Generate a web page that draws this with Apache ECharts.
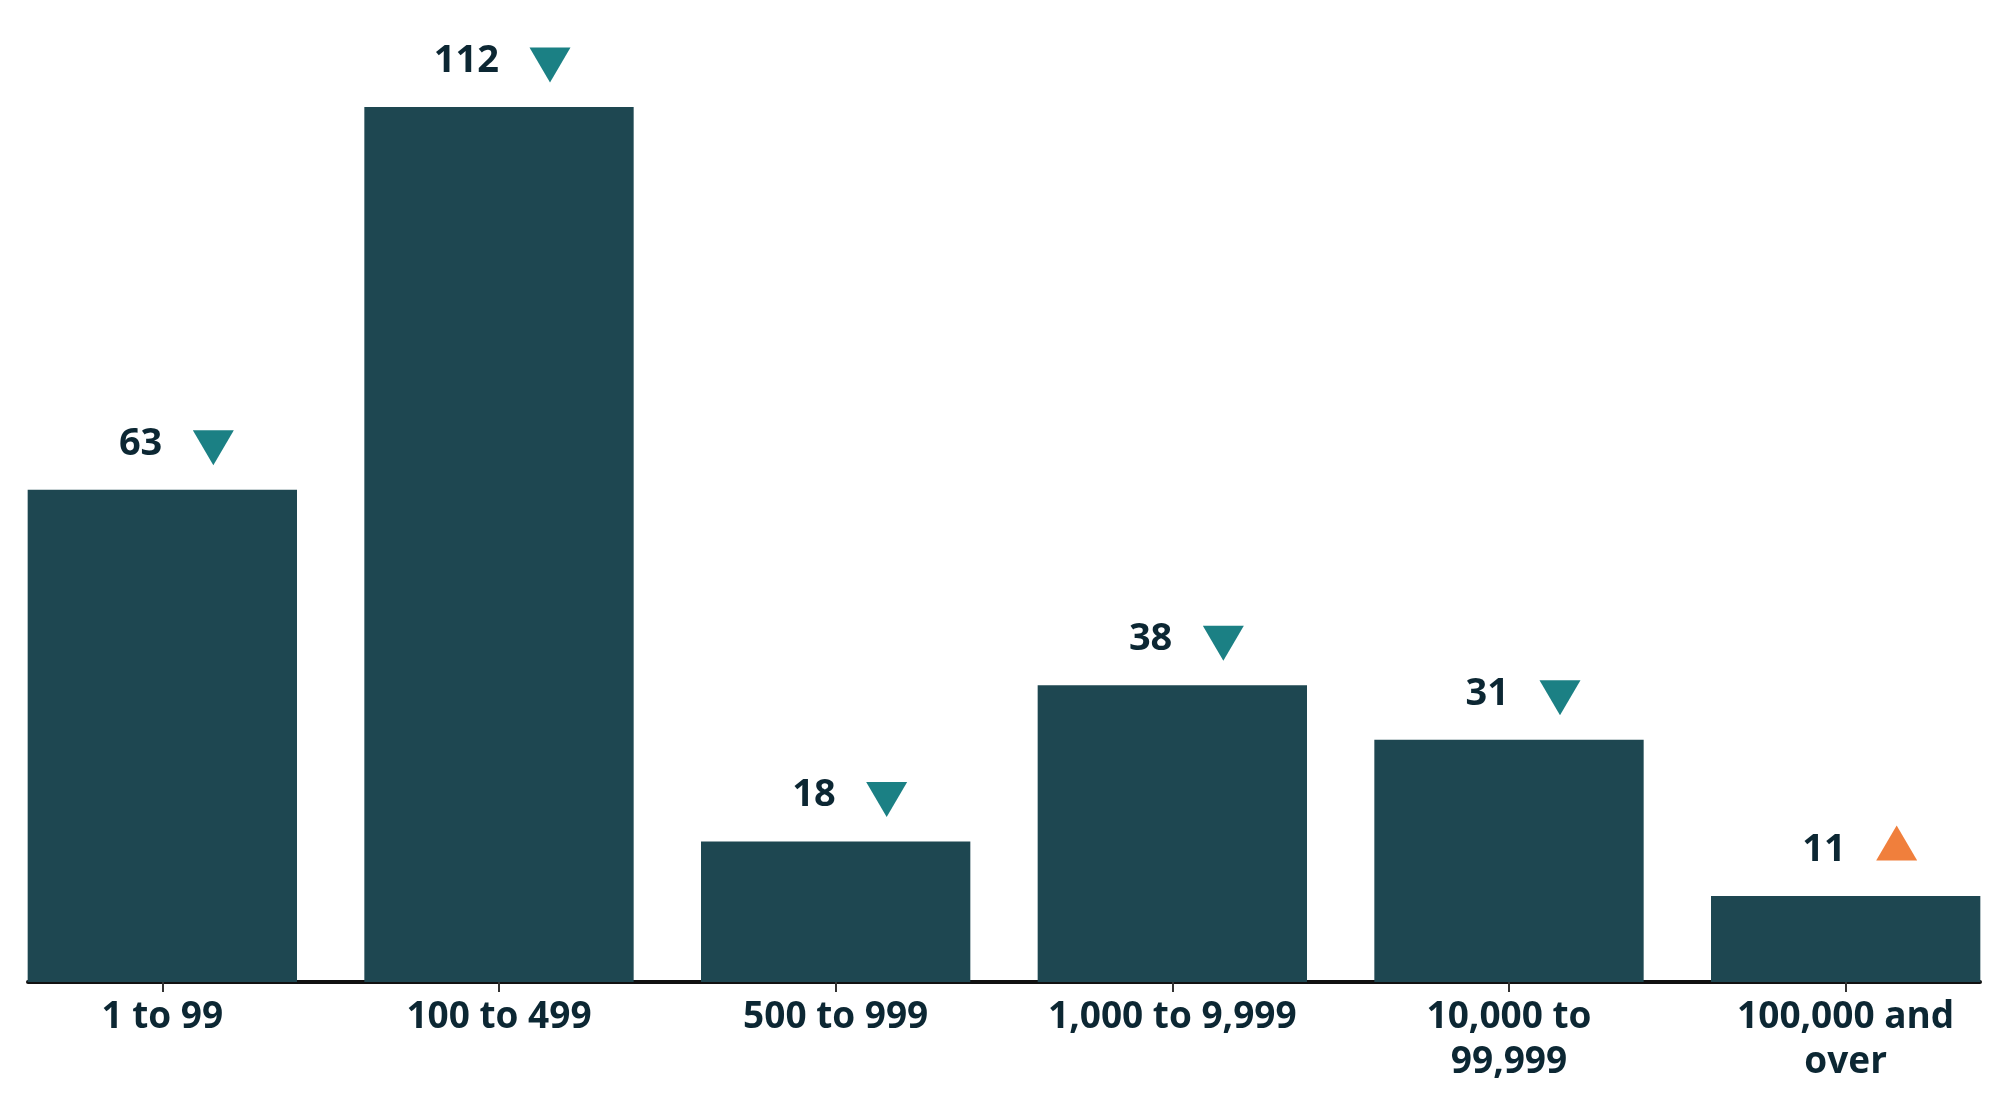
<!DOCTYPE html>
<html>
<head>
<meta charset="utf-8">
<script src="https://cdn.jsdelivr.net/npm/echarts@6/dist/echarts.min.js"></script>
<style>
  html, body { margin: 0; padding: 0; background: #fff; }
  #chart { width: 2000px; height: 1099px; }
</style>
</head>
<body>
<div id="chart"></div>
<script>
// data
const categories = ['1 to 99', '100 to 499', '500 to 999', '1,000 to 9,999', '10,000 to\n99,999', '100,000 and\nover']
const counts = [63, 112, 18, 38, 31, 11]
const changes = ['down', 'down', 'down', 'down', 'down', 'up']

const textColor = '#0c2733'
const fontFamily = '"Open Sans", "Noto Sans", sans-serif'

const chart = echarts.init(document.getElementById('chart'))

const arrows = counts.map((v, i) => {
  const up = changes[i] === 'up'
  return {
    value: [i, v],
    symbolRotate: up ? 0 : 180,
    symbolOffset: [51, up ? -53 : -42],
    itemStyle: { color: up ? '#f07f3c' : '#1b8084', opacity: 1 }
  }
})

chart.setOption({
  animation: false,
  grid: [
    { left: -6, right: -14, top: 44.5, bottom: 117, outerBoundsMode: 'none' },
    // second grid only carries the baseline, which stops at the bar edges
    { left: 28, right: 20, top: 44.5, bottom: 117, outerBoundsMode: 'none' }
  ],
  xAxis: [{
    type: 'category',
    data: categories,
    gridIndex: 0,
    axisLine: { show: false },
    axisTick: {
      show: true,
      alignWithLabel: true,
      length: 10,
      lineStyle: { color: '#333', width: 2 }
    },
    axisLabel: {
      interval: 0,
      margin: 13,
      color: textColor,
      fontFamily: fontFamily,
      fontWeight: 'bold',
      fontSize: 37,
      lineHeight: 45
    }
  }, {
    type: 'category',
    data: [],
    gridIndex: 1,
    axisLine: { show: true, lineStyle: { color: '#111', width: 4 } },
    axisTick: { show: false },
    axisLabel: { show: false }
  }],
  yAxis: [
    { type: 'value', gridIndex: 0, min: 0, max: 120, show: false },
    { type: 'value', gridIndex: 1, min: 0, max: 120, show: false }
  ],
  series: [{
    type: 'bar',
    data: counts,
    barCategoryGap: '20%',
    itemStyle: { color: '#1e4751' },
    label: {
      show: true,
      position: 'top',
      align: 'right',
      distance: 27,
      color: textColor,
      fontFamily: fontFamily,
      fontWeight: 'bold',
      fontSize: 38,
      lineHeight: 38
    }
  }, {
    type: 'scatter',
    data: arrows,
    symbol: 'triangle',
    symbolSize: [41, 35],
    silent: true,
    z: 3
  }]
})
</script>
</body>
</html>
